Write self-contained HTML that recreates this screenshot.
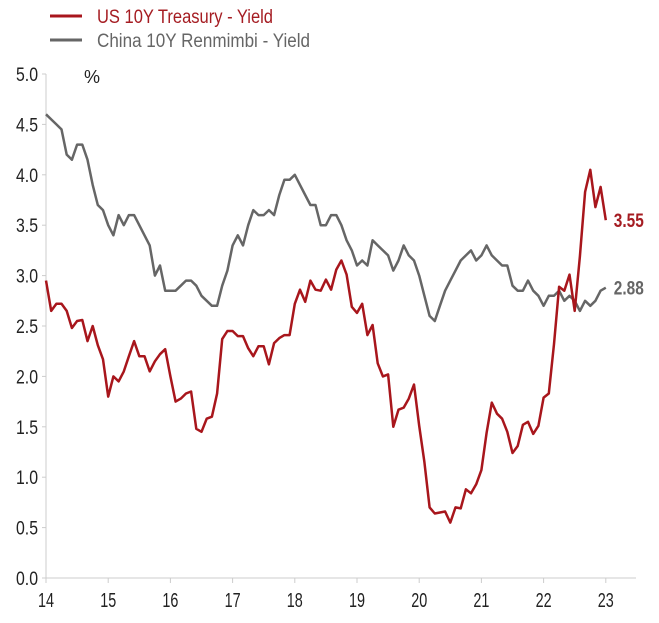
<!DOCTYPE html>
<html><head><meta charset="utf-8"><style>
body{margin:0;background:#fff;}
svg{display:block;font-family:"Liberation Sans Narrow","Liberation Sans",sans-serif;}
</style></head><body>
<svg id="chart" width="659" height="623" viewBox="0 0 659 623">
<g>
<line x1="50" y1="16" x2="82" y2="16" stroke="#a8161c" stroke-width="3"/>
<text x="97" y="23" font-size="19" fill="#a51c22" textLength="176" lengthAdjust="spacingAndGlyphs">US 10Y Treasury - Yield</text>
<line x1="50" y1="40" x2="82" y2="40" stroke="#666" stroke-width="3"/>
<text x="97" y="47" font-size="19" fill="#666" textLength="213" lengthAdjust="spacingAndGlyphs">China 10Y Renmimbi - Yield</text>
</g>
<text x="84" y="83" font-size="18" fill="#222">%</text>
<g id="axes"></g>
<g id="series"></g>
</svg>
<script>
const years=["14","15","16","17","18","19","20","21","22","23"];
const yTicks=[0,0.5,1,1.5,2,2.5,3,3.5,4,4.5,5];
const usYield=[2.95,2.65,2.72,2.72,2.65,2.48,2.55,2.56,2.35,2.50,2.31,2.17,
1.80,2.00,1.95,2.05,2.20,2.35,2.20,2.20,2.05,2.15,2.22,2.27,
2.00,1.75,1.78,1.83,1.85,1.48,1.45,1.58,1.60,1.83,2.37,2.45,
2.45,2.40,2.40,2.28,2.20,2.30,2.30,2.12,2.33,2.38,2.41,2.41,
2.72,2.86,2.74,2.95,2.86,2.85,2.96,2.86,3.06,3.15,3.01,2.69,
2.63,2.72,2.41,2.51,2.13,2.00,2.02,1.50,1.67,1.69,1.78,1.92,
1.51,1.15,0.70,0.64,0.65,0.66,0.55,0.70,0.69,0.88,0.84,0.93,
1.07,1.44,1.74,1.63,1.58,1.45,1.24,1.31,1.52,1.55,1.43,1.51,
1.79,1.83,2.32,2.89,2.85,3.01,2.65,3.19,3.83,4.05,3.68,3.88,3.55];
const chinaYield=[4.6,4.55,4.5,4.45,4.2,4.15,4.3,4.3,4.15,3.9,3.7,3.65,
3.5,3.4,3.6,3.5,3.6,3.6,3.5,3.4,3.3,3.0,3.1,2.85,
2.85,2.85,2.9,2.95,2.95,2.9,2.8,2.75,2.7,2.7,2.9,3.05,
3.3,3.4,3.3,3.5,3.65,3.6,3.6,3.65,3.6,3.8,3.95,3.95,
4.0,3.9,3.8,3.7,3.7,3.5,3.5,3.6,3.6,3.5,3.35,3.25,
3.1,3.15,3.1,3.35,3.3,3.25,3.2,3.05,3.15,3.3,3.2,3.15,
3.0,2.8,2.6,2.55,2.7,2.85,2.95,3.05,3.15,3.2,3.25,3.15,
3.2,3.3,3.2,3.15,3.1,3.1,2.9,2.85,2.85,2.95,2.85,2.8,
2.7,2.8,2.8,2.85,2.75,2.8,2.75,2.65,2.75,2.7,2.75,2.85,2.88];
const lastLabels=["3.55","2.88"];
const NS="http://www.w3.org/2000/svg";
const x0=46,yearW=62.2,y0=578,yU=100.8;
function xs(m){return x0+m/12*yearW;}
function ys(v){return y0-v*yU;}
function mk(t,a,p){const e=document.createElementNS(NS,t);for(const k in a)e.setAttribute(k,a[k]);p.appendChild(e);return e;}
const ax=document.getElementById('axes');
const yl=mk('line',{x1:x0,y1:ys(5),x2:x0,y2:y0,stroke:'#ccc','stroke-width':1},ax);


const xl=mk('line',{x1:x0,y1:y0,x2:636,y2:y0,stroke:'#ccc','stroke-width':1},ax);


yTicks.forEach(v=>{
 mk('line',{x1:x0-4,y1:ys(v),x2:x0,y2:ys(v),stroke:'#ccc'},ax);
 const t=mk('text',{x:x0-8,y:ys(v)+7,'text-anchor':'end','font-size':19,fill:'#222',textLength:22,lengthAdjust:'spacingAndGlyphs'},ax);
 t.textContent=v.toFixed(1);
 
 
});
years.forEach((y,i)=>{
 const x=x0+i*yearW;
 mk('line',{x1:x,y1:y0,x2:x,y2:y0+5,stroke:'#ccc'},ax);
 const t=mk('text',{x:x-8,y:y0+29,'font-size':20,fill:'#222',textLength:16,lengthAdjust:'spacingAndGlyphs'},ax);
 t.textContent=y;
 
 
});
const sg=document.getElementById('series');
function line(arr,col,name){
 const d=arr.map((v,i)=>(i?'L':'M')+xs(i).toFixed(1)+','+ys(v).toFixed(1)).join('');
 const p=mk('path',{d:d,fill:'none',stroke:col,'stroke-width':2.5,'stroke-linejoin':'round'},sg);
 
 
}
line(chinaYield,'#666','china-yield-line');
line(usYield,'#a8161c','us-yield-line');
const l1=mk('text',{x:xs(usYield.length-1)+8,y:ys(usYield[usYield.length-1])+7,'font-size':19,'font-weight':'bold',fill:'#a51c22',textLength:30,lengthAdjust:'spacingAndGlyphs'},sg);
l1.textContent=lastLabels[0];


const l2=mk('text',{x:xs(chinaYield.length-1)+8,y:ys(chinaYield[chinaYield.length-1])+7,'font-size':19,'font-weight':'bold',fill:'#666',textLength:30,lengthAdjust:'spacingAndGlyphs'},sg);
l2.textContent=lastLabels[1];


</script>
</body></html>
